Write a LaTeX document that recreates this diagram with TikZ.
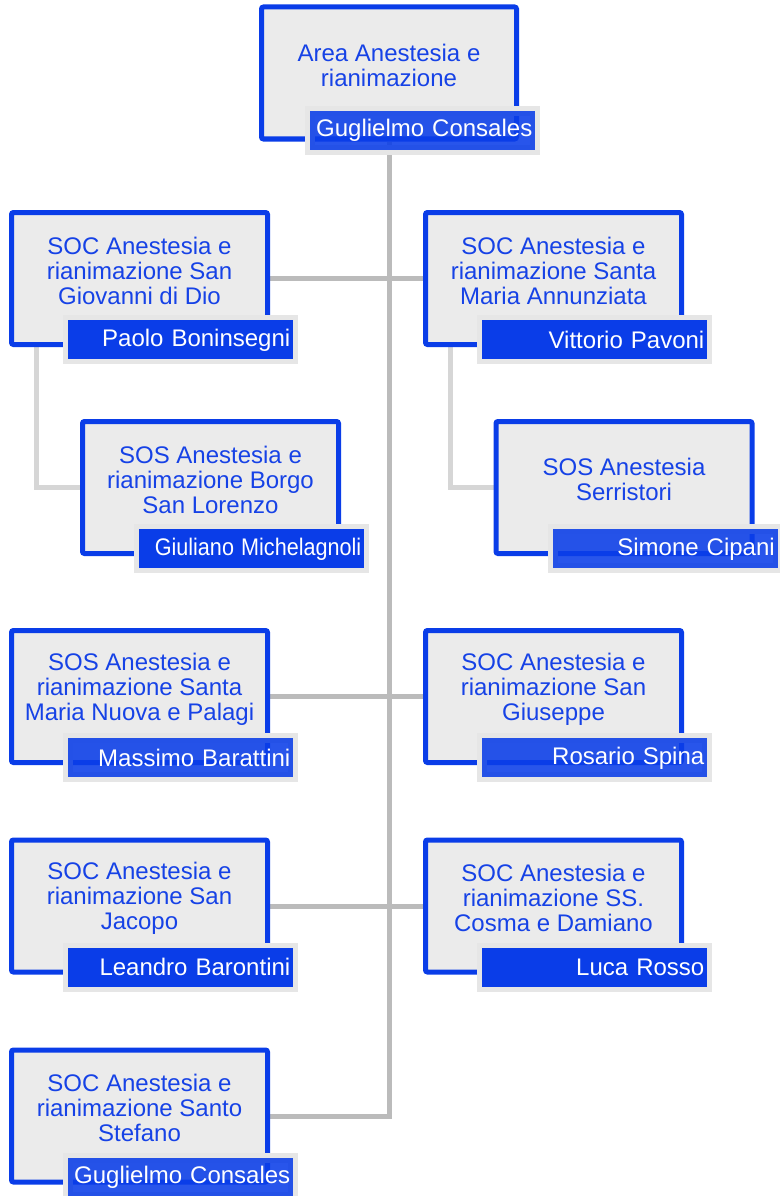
\documentclass[tikz,border=0pt]{standalone}
\usepackage{fontspec}
\setmainfont{Liberation Sans}
\usepackage{graphicx}
\usepackage{tikz}
\usetikzlibrary{positioning, backgrounds}
\usepackage{xcolor}
\definecolor{boxblue}{RGB}{10, 61, 232}
\definecolor{textblue}{RGB}{22, 66, 230}
\definecolor{nameblue}{RGB}{10, 61, 232}
\definecolor{boxfill}{RGB}{235, 235, 235}
\definecolor{halogray}{RGB}{230, 230, 230}
\definecolor{spinegray}{RGB}{187, 187, 187}
\definecolor{branchgray}{RGB}{214, 214, 214}

\begin{document}
\begin{tikzpicture}[
    x=1pt, y=-1pt,
    unit/.style={rectangle, draw=boxblue, fill=boxfill, rounded corners=2pt, minimum width=256pt, minimum height=132pt, line width=5pt},
    title/.style={align=center, text=textblue, font=\fontsize{24}{25}\selectfont, inner sep=0pt},
    head/.style={rectangle, fill=nameblue, preaction={draw=halogray, line width=10pt}, minimum width=225pt, minimum height=39pt, text width=219pt, inner xsep=3pt, inner ysep=0pt, align=right, text=white, font=\fontsize{24}{25}\selectfont, anchor=south east},
    headfade/.style={head, fill opacity=0.88, text opacity=1},
    spine/.style={draw=spinegray, line width=5pt},
    branch/.style={draw=branchgray, line width=5pt},
]
\useasboundingbox (0,0) rectangle (779,1196);

% Area
\node[unit, minimum width=255pt] (area) at (389, 73) {};
\node[title] (areatitle) at ([yshift=8pt]area.center) {Area Anestesia e\\rianimazione};
\node[headfade] (areahead) at ([xshift=16.5pt, yshift=-8.5pt]area.south east) {Guglielmo Consales};

% Row 1
\node[unit] (giovanni) at (139.5, 278.5) {};
\node[title] (giovannititle) at ([yshift=8pt]giovanni.center) {SOC Anestesia e\\rianimazione San\\Giovanni di Dio};
\node[head] (giovannihead) at ([xshift=23.5pt, yshift=-12.5pt]giovanni.south east) {Paolo Boninsegni};

\node[unit] (annunziata) at (553.5, 278.5) {};
\node[title] (annunziatatitle) at ([yshift=8pt]annunziata.center) {SOC Anestesia e\\rianimazione Santa\\Maria Annunziata};
\node[head] (annunziatahead) at ([xshift=23.5pt, yshift=-12.5pt]annunziata.south east) {Vittorio Pavoni};

% Sub units
\node[unit] (borgo) at (210.5, 487.5) {};
\node[title] (borgotitle) at ([yshift=8pt]borgo.center) {SOS Anestesia e\\rianimazione Borgo\\San Lorenzo};
\node[head] (borgohead) at ([xshift=23.5pt, yshift=-12.5pt]borgo.south east) {\scalebox{0.9}[1]{Giuliano Michelagnoli}};

\node[unit] (serristori) at (624, 487.5) {};
\node[title] (serristorititle) at ([yshift=8pt]serristori.center) {SOS Anestesia\\Serristori};
\node[headfade] (serristorihead) at ([xshift=23.5pt, yshift=-12.5pt]serristori.south east) {Simone Cipani};

% Row 3
\node[unit] (nuova) at (139.5, 696.5) {};
\node[title] (nuovatitle) at ([yshift=7pt]nuova.center) {SOS Anestesia e\\rianimazione Santa\\Maria Nuova e Palagi};
\node[headfade] (nuovahead) at ([xshift=23.5pt, yshift=-12.5pt]nuova.south east) {Massimo Barattini};

\node[unit] (giuseppe) at (553.5, 696.5) {};
\node[title] (giuseppetitle) at ([yshift=7pt]giuseppe.center) {SOC Anestesia e\\rianimazione San\\Giuseppe};
\node[headfade] (giuseppehead) at ([xshift=23.5pt, yshift=-12.5pt]giuseppe.south east) {Rosario Spina};

% Row 4
\node[unit] (jacopo) at (139.5, 906) {};
\node[title] (jacopotitle) at ([yshift=8pt]jacopo.center) {SOC Anestesia e\\rianimazione San\\Jacopo};
\node[head] (jacopohead) at ([xshift=23.5pt, yshift=-12.5pt]jacopo.south east) {Leandro Barontini};

\node[unit] (cosma) at (553.5, 906) {};
\node[title] (cosmatitle) at ([yshift=8pt]cosma.center) {SOC Anestesia e\\rianimazione SS.\\Cosma e Damiano};
\node[head] (cosmahead) at ([xshift=23.5pt, yshift=-12.5pt]cosma.south east) {Luca Rosso};

% Row 5
\node[unit] (stefano) at (139.5, 1116) {};
\node[title] (stefanotitle) at ([yshift=8pt]stefano.center) {SOC Anestesia e\\rianimazione Santo\\Stefano};
\node[headfade] (stefanohead) at ([xshift=23.5pt, yshift=-12.5pt]stefano.south east) {Guglielmo Consales};

% Connectors
\begin{scope}[on background layer]
\draw[spine] (area.south) -- (area.south |- stefano.east) -- (stefano.east);
\draw[spine] (giovanni.east) -- (annunziata.west);
\draw[spine] (nuova.east) -- (giuseppe.west);
\draw[spine] (jacopo.east) -- (cosma.west);
\draw[branch] ([xshift=27pt]giovanni.south west) |- (borgo.west);
\draw[branch] ([xshift=27pt]annunziata.south west) |- (serristori.west);
\end{scope}

\end{tikzpicture}
\end{document}
